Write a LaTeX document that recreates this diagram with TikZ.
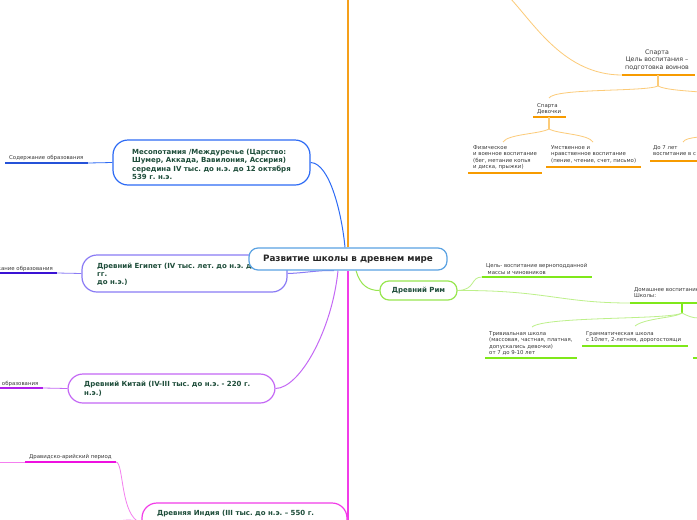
\documentclass[tikz,border=0pt]{standalone}
\usepackage{fontspec}
\setmainfont{DejaVu Sans}
\frenchspacing
\usetikzlibrary{backgrounds}
\definecolor{mesC}{HTML}{2D6BF5}
\definecolor{mesU}{HTML}{2552D8}
\definecolor{egyC}{HTML}{8A7BF5}
\definecolor{egyU}{HTML}{3A12D4}
\definecolor{chiC}{HTML}{C468F5}
\definecolor{chiU}{HTML}{B020EC}
\definecolor{indC}{HTML}{F23CE8}
\definecolor{indU}{HTML}{EE10E0}
\definecolor{indT}{HTML}{F47FEF}
\definecolor{romC}{HTML}{98E650}
\definecolor{romU}{HTML}{7FE81A}
\definecolor{romT}{HTML}{BDF08A}
\definecolor{oraM}{HTML}{F5A01A}
\definecolor{oraU}{HTML}{F79B00}
\definecolor{oraT}{HTML}{FCCB78}
\definecolor{cenC}{HTML}{5AA2E2}
\definecolor{nodegreen}{HTML}{1E4D3A}
\definecolor{leafgray}{HTML}{3A3A3A}
\tikzset{
  box/.style={draw, fill=white, line width=1.2pt, rounded corners=15pt, inner sep=0pt},
  ntext/.style={font=\bfseries\fontsize{7}{8.35}\selectfont, text=nodegreen, align=left, anchor=base west, inner sep=0pt},
  leaf/.style={font=\fontsize{5.4}{6.5}\selectfont, text=leafgray, align=left, anchor=base west, inner sep=0pt},
  spleaf/.style={font=\fontsize{6.3}{7.5}\selectfont, text=leafgray, align=center, anchor=base, inner sep=0pt},
  uline/.style={line width=1.6pt},
  thinl/.style={line width=0.8pt},
  midl/.style={line width=1pt},
}
\begin{document}
\begin{tikzpicture}[x=1pt,y=-1pt]
\useasboundingbox (0,0) rectangle (697,520);

% ---------- boxes (text nodes anchored at the baseline of their last line) ----------
\node[box, draw=mesC, minimum width=197pt, minimum height=45pt] (mes) at (211.5,162.5) {};
\node[ntext] (mest) at (132,179.5) {Месопотамия /Междуречье (Царство:\\Шумер, Аккада, Вавилония, Ассирия)\\середина IV тыс. до н.э. до 12 октября\\539 г. н.э.};

\node[box, draw=egyC, minimum width=205pt, minimum height=37pt] (egy) at (184.5,273.5) {};
\node[ntext] (egyt) at (97,284.7) {Древний Египет (IV тыс. лет. до н.э. до\\гг.\\до н.э.)};

\node[box, draw=chiC, minimum width=207pt, minimum height=29pt] (chi) at (171.5,388.5) {};
\node[ntext] (chit) at (84,395.3) {Древний Китай (IV-III тыс. до н.э. - 220 г.\\н.э.)};

\node[box, draw=indC, minimum width=205pt, minimum height=40pt] (ind) at (244.5,523) {};
\node[ntext] (indt) at (157,515.5) {Древняя Индия (III тыс. до н.э. – 550 г.};

\node[box, draw=romC, rounded corners=9pt, minimum width=77pt, minimum height=19pt,
      font=\bfseries\fontsize{7}{8.35}\selectfont, text=nodegreen] (rom) at (418.5,290.5) {Древний Рим};

\node[box, draw=cenC, rounded corners=9pt, minimum width=198pt, minimum height=22pt,
      font=\bfseries\fontsize{8.8}{10}\selectfont, text=black!85] (c) at (348,259) {Развитие школы в древнем мире};

% ---------- leaf texts ----------
\node[leaf] (mesl) at (9,159) {Содержание образования};
\node[leaf, anchor=base east] (egyl) at (53,270) {Содержание образования};
\node[leaf, anchor=base east] (chil) at (38.5,385) {Содержание образования};
\node[leaf] (indl) at (29,458) {Дравидско-арийский период};

\node[leaf] (goal) at (486,274) {Цель- воспитание верноподданной\\\hspace{1.5pt}массы и чиновников};
\node[leaf] (home) at (634,297.5) {Домашнее воспитание\\Школы:};
\node[leaf] (triv) at (489,354.5) {Тривиальная школа\\(массовая, частная, платная,\\допускались девочки)\\от 7 до 9-10 лет};
\node[leaf] (gram) at (586,341.5) {Грамматическая школа\\с 10лет, 2-летняя, дорогостоящи};

\node[spleaf] (sp) at (657,69) {Спарта\\Цель воспитания –\\подготовка воинов};
\node[leaf] (spg) at (537,113.5) {Спарта\\Девочки};
\node[leaf] (phys) at (473,168.5) {Физическое\\и военное воспитание\\(бег, метание копья\\и диска, прыжки)};
\node[leaf] (ment) at (551,162) {Умственное и\\нравственное воспитание\\(пение, чтение, счет, письмо)};
\node[leaf] (do7) at (653,155.5) {До 7 лет\\воспитание в с};

% ---------- coordinates ----------
\coordinate (mainTop) at (348,-2);
\coordinate (mesUL) at (5,163);   \coordinate (mesUR) at (88,163);
\coordinate (egyUL) at (-2,273);  \coordinate (egyUR) at (57,273);
\coordinate (chiUL) at (-2,388);  \coordinate (chiUR) at (43,388);
\coordinate (indUL) at (25,462);  \coordinate (indUR) at (116,462); \coordinate (indFar) at (-2,462);
\coordinate (indLow) at (100,526);
\coordinate (goalL) at (482,277); \coordinate (goalR) at (592,277);
\coordinate (homeL) at (630,303); \coordinate (homeR) at (699,303);
\coordinate (homeB) at (682,313); \coordinate (homeFar) at (699,318);
\coordinate (trivT) at (532,327); \coordinate (trivL) at (485,358); \coordinate (trivR) at (577,358);
\coordinate (gramT) at (635,326); \coordinate (gramL) at (582,346); \coordinate (gramR) at (688,346);
\coordinate (thirdL) at (693,358); \coordinate (thirdR) at (699,358);
\coordinate (spTop) at (510,-2);
\coordinate (spL) at (622,75); \coordinate (spR) at (695,75); \coordinate (spB) at (658,86);
\coordinate (spFar) at (699,92);
\coordinate (spgT) at (549,98); \coordinate (spgL) at (533,117); \coordinate (spgR) at (566,117);
\coordinate (spgB) at (549,129);
\coordinate (physT) at (503,142); \coordinate (physL) at (468,173); \coordinate (physR) at (542,173);
\coordinate (mentT) at (593,142); \coordinate (mentL) at (546,167); \coordinate (mentR) at (641,167);
\coordinate (do7T) at (683,142); \coordinate (do7Far) at (699,137);
\coordinate (do7L) at (650,161); \coordinate (do7R) at (699,161);

% ---------- connectors ----------
\begin{pgfonlayer}{background}
\fill[white] (0,0) rectangle (697,520);
\draw[oraM, line width=1.5pt] (c.north) -- (mainTop);
\draw[mesC, midl] (mes.east) .. controls (330,163) and (342,215) .. ([xshift=-3pt]c.north);
\draw[egyC, midl] (egy.east) .. controls (305,273) and (318,270) .. ([xshift=-14pt]c.south);
\draw[chiC, midl] (chi.east) .. controls (300,388) and (332,330) .. ([xshift=-10pt]c.south);
\draw[indC, line width=1.2pt] (c.south) -- (c.south |- ind.east);
\draw[romC, midl] ([xshift=8pt]c.south) .. controls (360,285) and (368,290.5) .. (rom.west);

% Mesopotamia
\draw[mesC, thinl] (mes.west) -- (mesUR);
\draw[mesU, uline] (mesUL) -- (mesUR);
% Egypt
\draw[egyC, thinl] (egy.west) -- (egyUR);
\draw[egyU, uline] (egyUL) -- (egyUR);
% China
\draw[chiC, thinl] (chi.west) -- (chiUR);
\draw[chiU, uline] (chiUL) -- (chiUR);
% India
\draw[indT, thinl] (indFar) -- (indUL);
\draw[indU, uline] (indUL) -- (indUR);
\draw[indT, thinl] (indUR) .. controls (124,462) and (120,517) .. (ind.west);
\draw[indT, thinl] (ind.west) .. controls (130,517) and (118,521) .. (indLow);

% Rome
\draw[romT, thinl] (rom.east) .. controls (476,290) and (470,277) .. (goalL);
\draw[romU, uline] (goalL) -- (goalR);
\draw[romT, thinl] (rom.east) .. controls (545,290) and (560,303) .. (homeL);
\draw[romU, uline] (homeL) -- (homeR);
\draw[romU, line width=1.2pt] (homeB |- homeL) -- (homeB);
\draw[romT, thinl] (homeB) .. controls (670,320) and (545,316) .. (trivT);
\draw[romT, thinl] (homeB) .. controls (675,318) and (645,318) .. (gramT);
\draw[romT, thinl] (homeB) .. controls (688,316) and (692,318) .. (homeFar);
\draw[romU, uline] (trivL) -- (trivR);
\draw[romU, uline] (gramL) -- (gramR);
\draw[romU, uline] (thirdL) -- (thirdR);

% Sparta
\draw[oraT, thinl] (spTop) .. controls (535,25) and (565,75) .. (spL);
\draw[oraU, uline] (spL) -- (spR);
\draw[oraT, line width=1.2pt] (spB |- spL) -- (spB);
\draw[oraT, thinl] (spB) .. controls (645,92) and (555,88) .. (spgT);
\draw[oraT, thinl] (spB) .. controls (665,90) and (690,91) .. (spFar);
\draw[oraU, uline] (spgL) -- (spgR);
\draw[oraT, line width=1.2pt] (spgB |- spgL) -- (spgB);
\draw[oraT, thinl] (spgB) .. controls (540,134) and (508,134) .. (physT);
\draw[oraT, thinl] (spgB) .. controls (558,134) and (588,134) .. (mentT);
\draw[oraU, uline] (physL) -- (physR);
\draw[oraU, uline] (mentL) -- (mentR);
\draw[oraT, thinl] (do7Far) .. controls (690,138) and (685,139) .. (do7T);
\draw[oraU, uline] (do7L) -- (do7R);
\end{pgfonlayer}
\end{tikzpicture}
\end{document}
